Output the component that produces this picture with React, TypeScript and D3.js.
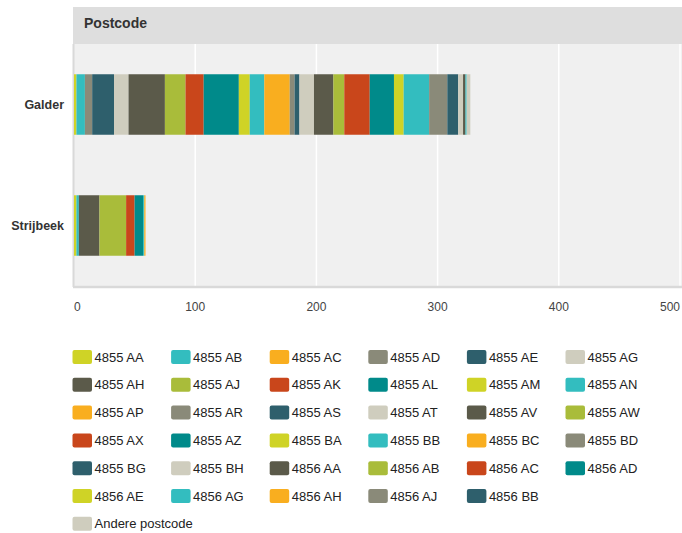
import * as React from 'react';
import { scaleLinear, scaleBand, stack } from 'd3';

const postcodes = [
  '4855 AA', '4855 AB', '4855 AC', '4855 AD', '4855 AE', '4855 AG',
  '4855 AH', '4855 AJ', '4855 AK', '4855 AL', '4855 AM', '4855 AN',
  '4855 AP', '4855 AR', '4855 AS', '4855 AT', '4855 AV', '4855 AW',
  '4855 AX', '4855 AZ', '4855 BA', '4855 BB', '4855 BC', '4855 BD',
  '4855 BG', '4855 BH', '4856 AA', '4856 AB', '4856 AC', '4856 AD',
  '4856 AE', '4856 AG', '4856 AH', '4856 AJ', '4856 BB', 'Andere postcode',
];

const categories = ['Galder', 'Strijbeek'];

const galder = [
  2, 7, 0, 6, 18, 12, 30, 17, 15, 29, 9, 12,
  21, 4, 4, 12, 16, 9, 21, 20, 8, 21, 0, 15,
  9, 4, 2, 0, 0, 0, 0, 1, 0, 0, 0, 3,
];

const strijbeek = [
  2, 2, 0, 0, 0, 0, 0, 0, 0, 0, 0, 0,
  0, 0, 0, 0, 0, 0, 0, 0, 0, 0, 0, 0,
  0, 0, 17, 22, 7, 7, 0, 1, 1, 0, 0, 0,
];

const palette = [
  '#cfd326', '#33bdbf', '#f9ae1f', '#8a8a79', '#2e5f6c',
  '#cfcdbe', '#5b5a4a', '#a9bc3a', '#c9461b', '#008a8a',
];

const xTicks = [0, 100, 200, 300, 400, 500];

const W = 682;
const H = 533;
const plotLeft = 74;
const plotRight = 680;
const headerTop = 7;
const plotTop = 44;
const plotBottom = 286;

const font = 'Arial, "Liberation Sans", Helvetica, sans-serif';

// flow legend: fixed slot width, wraps when an item would run past the edge
function layoutLegend(labels: string[]) {
  const slot = 98.6;
  const rowH = 27.8;
  const left = 72.5;
  let cx = left;
  let cy = 350;
  return labels.map(l => {
    const need = Math.max(slot, 22 + l.length * 7.2 + 6);
    if (cx + need > W + 1) { cx = left; cy += rowH; }
    const pos = { x: cx, y: cy };
    cx += Math.ceil(need / slot) * slot;
    return pos;
  });
}

export default function App() {
  const rows = categories.map((c, ci) => {
    const vals = ci === 0 ? galder : strijbeek;
    const r: Record<string, any> = { cat: c };
    postcodes.forEach((p, i) => { r[p] = vals[i]; });
    return r;
  });

  const series = stack<Record<string, any>>().keys(postcodes)(rows);

  const x = scaleLinear().domain([0, 500]).range([plotLeft, plotRight]);
  const y = scaleBand<string>().domain(categories).range([plotTop, plotBottom])
    .paddingInner(0.5).paddingOuter(0.25);

  const legendPos = layoutLegend(postcodes);

  return (
    <svg width={W} height={H} style={{ position: 'absolute', left: 0, top: 0 }} fontFamily={font}>
      {/* header band */}
      <rect x={plotLeft - 1} y={headerTop} width={W - plotLeft + 1} height={plotTop - headerTop} fill="#dedede" />
      <text x={84} y={23} dy="0.35em" fontSize={14} fontWeight="bold" fill="#333">Postcode</text>

      {/* plot background */}
      <rect x={plotLeft - 1} y={plotTop} width={W - plotLeft + 1} height={plotBottom - plotTop} fill="#f0f0f0" />
      {xTicks.slice(1).map(t => (
        <line key={t} x1={x(t)} x2={x(t)} y1={plotTop} y2={plotBottom} stroke="#ffffff" strokeWidth={1.5} />
      ))}
      <line x1={plotLeft - 0.5} x2={plotLeft - 0.5} y1={plotTop} y2={plotBottom + 1} stroke="#d9d9d9" strokeWidth={2} />
      <line x1={plotLeft - 1} x2={W} y1={plotBottom + 1} y2={plotBottom + 1} stroke="#d9d9d9" strokeWidth={2.5} />

      {/* stacked bars */}
      {series.map((s, si) => (
        <g key={s.key} fill={palette[si % palette.length]}>
          {s.map((d, di) => {
            const w = x(d[1]) - x(d[0]);
            if (w <= 0) return null;
            return (
              <rect key={di} x={x(d[0])} y={y(categories[di])} width={w} height={y.bandwidth()} />
            );
          })}
        </g>
      ))}

      {/* category labels */}
      {categories.map(c => (
        <text key={c} x={64} y={(y(c) ?? 0) + y.bandwidth() / 2} dy="0.35em" textAnchor="end"
          fontSize={12.5} fontWeight="bold" fill="#333">{c}</text>
      ))}

      {/* x tick labels */}
      {xTicks.map((t, i) => (
        <text key={t} x={i === 0 ? plotLeft : x(t)} y={307} dy="0.35em"
          textAnchor={i === 0 ? 'start' : i === xTicks.length - 1 ? 'end' : 'middle'}
          fontSize={12} fill="#444">{t}</text>
      ))}

      {/* legend */}
      {postcodes.map((p, i) => {
        const { x: lx, y: ly } = legendPos[i];
        return (
          <g key={p}>
            <rect x={lx} y={ly} width={19.5} height={14} rx={2} fill={palette[i % palette.length]} />
            <text x={lx + 22} y={ly + 7} dy="0.35em" fontSize={13} fill="#222">{p}</text>
          </g>
        );
      })}
    </svg>
  );
}
